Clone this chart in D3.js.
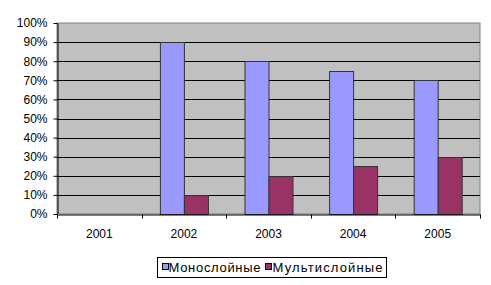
<!DOCTYPE html>
<html>
<head>
<meta charset="utf-8">
<script src="https://cdn.jsdelivr.net/npm/d3@7"></script>
<style>
  body { margin: 0; background: #fff; }
  svg { display: block; }
</style>
</head>
<body>
<div id="chart"></div>
<script>
// Data
const years = ["2001", "2002", "2003", "2004", "2005"];
const seriesNames = ["Монослойные", "Мультислойные"];
const mono = [0, 90, 80, 75, 70];
const multi = [0, 10, 20, 25, 30];
const yTicks = [0, 10, 20, 30, 40, 50, 60, 70, 80, 90, 100];
const colors = ["#9999ff", "#993366"];

const W = 491, H = 285;
const margin = { top: 23, right: 11, bottom: 71, left: 57 };
const innerW = W - margin.left - margin.right;
const innerH = H - margin.top - margin.bottom;
const font = "Arial, 'Liberation Sans', sans-serif";

const svg = d3.select("#chart").append("svg")
    .attr("width", W)
    .attr("height", H);

const g = svg.append("g")
    .attr("transform", `translate(${margin.left},${margin.top})`);

const x = d3.scaleBand().domain(years).range([0, innerW]);
const y = d3.scaleLinear().domain([0, 100]).range([innerH, 0]);
const xInner = d3.scaleBand().domain(seriesNames).range([0, 48]);
const offset = (x.bandwidth() - 48) / 2;

// plot area background
g.append("rect")
    .attr("x", 0).attr("y", 0)
    .attr("width", innerW).attr("height", innerH)
    .attr("fill", "#c0c0c0")
    .attr("stroke", "#808080")
    .attr("stroke-width", 1);

// gridlines
g.selectAll(".grid").data(yTicks.filter(d => d > 0 && d < 100))
  .enter().append("line")
    .attr("x1", 0).attr("x2", innerW)
    .attr("y1", d => Math.round(y(d)) + 0.5)
    .attr("y2", d => Math.round(y(d)) + 0.5)
    .attr("stroke", "#000")
    .attr("stroke-width", 1);

// bars
const rows = years.map((yr, i) => ({ year: yr, vals: [mono[i], multi[i]] }));
const groups = g.selectAll(".grp").data(rows).enter().append("g")
    .attr("transform", d => `translate(${x(d.year) + offset},0)`);

groups.selectAll("rect")
    .data(d => d.vals.map((v, j) => ({ name: seriesNames[j], v, j })).filter(d => d.v > 0))
    .enter().append("rect")
    .attr("x", d => xInner(d.name) + 0.5)
    .attr("y", d => Math.round(y(d.v)) + 0.5)
    .attr("width", xInner.bandwidth())
    .attr("height", d => innerH - Math.round(y(d.v)))
    .attr("fill", d => colors[d.j])
    .attr("stroke", "#333")
    .attr("stroke-width", 1);

// y axis
const yAxis = g.append("g")
    .attr("transform", "translate(0.5,0)")
    .call(d3.axisLeft(y).tickValues(yTicks).tickFormat(d => d + "%").tickSize(4).tickSizeOuter(0));
yAxis.select(".domain").attr("stroke", "#000");
yAxis.selectAll("text").attr("font-family", font).attr("font-size", "12px")
    .attr("fill", "#000").attr("x", -10);

// x axis
const xAxis = g.append("g")
    .attr("transform", `translate(0,${innerH + 0.5})`)
    .call(d3.axisBottom(x).tickSize(0).tickSizeOuter(0));
xAxis.select(".domain").attr("stroke", "#000");
xAxis.selectAll("text").attr("font-family", font).attr("font-size", "12px")
    .attr("fill", "#000").attr("dy", "0").attr("y", 23);
// boundary ticks between categories
xAxis.selectAll(".btick").data(d3.range(years.length + 1))
  .enter().append("line")
    .attr("x1", i => Math.round(i * x.step()) + 0.5)
    .attr("x2", i => Math.round(i * x.step()) + 0.5)
    .attr("y1", 0).attr("y2", 4)
    .attr("stroke", "#000");

// legend
const lg = svg.append("g").attr("transform", "translate(157.5,257.5)");
lg.append("rect")
    .attr("width", 229).attr("height", 20)
    .attr("fill", "#fff").attr("stroke", "#000");
const items = [{ x: 5, tx: 11, len: 92 }, { x: 108, tx: 115, len: 110 }];
items.forEach((it, i) => {
    lg.append("rect")
        .attr("x", it.x).attr("y", 6)
        .attr("width", 6).attr("height", 6)
        .attr("fill", colors[i]).attr("stroke", "#000");
    lg.append("text")
        .attr("x", it.tx).attr("y", 14.5)
        .attr("font-family", font).attr("font-size", "13px")
        .attr("textLength", it.len)
        .attr("lengthAdjust", "spacing")
        .attr("fill", "#000")
        .text(seriesNames[i]);
});
</script>
</body>
</html>
